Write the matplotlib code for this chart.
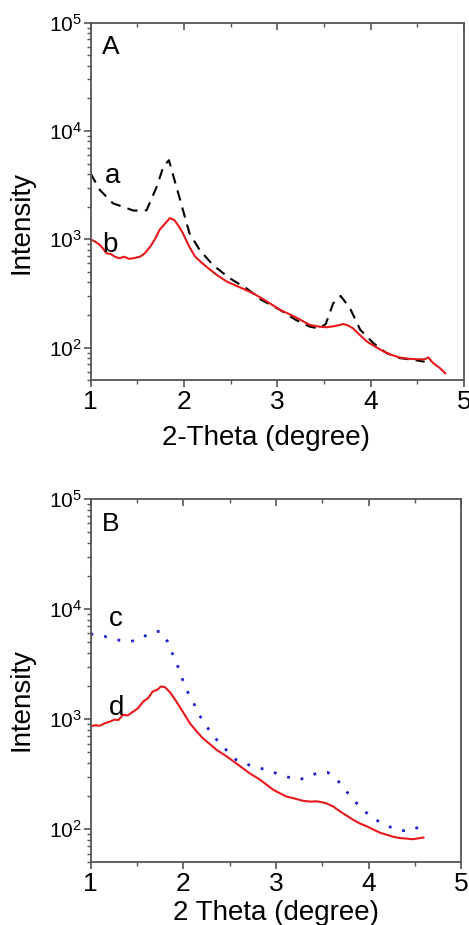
import numpy as np
import matplotlib
matplotlib.use('Agg')
import matplotlib.pyplot as plt

plt.rcParams['font.family'] = ['Liberation Sans', 'DejaVu Sans']
plt.rcParams['mathtext.fontset'] = 'custom'
plt.rcParams['mathtext.rm'] = 'Liberation Sans'
plt.rcParams['mathtext.it'] = 'Liberation Sans'

# ---- panel A ----
xa = [1.0, 1.1, 1.24, 1.46, 1.6, 1.71, 1.78, 1.84, 1.92, 1.96, 2.01, 2.06, 2.17, 2.31,
      2.49, 2.67, 2.83, 3.03, 3.2, 3.35, 3.45, 3.52, 3.6, 3.68, 3.78, 3.89, 4.03, 4.17,
      4.31, 4.46, 4.58]
ya = [4060, 2850, 2150, 1840, 1850, 3060, 4680, 5370, 3060, 2310, 1620, 1137, 795, 580,
      437, 353, 276, 223, 180, 156, 150, 165, 256, 300, 231, 146, 110, 89,
      80, 77, 74]

xb = [1.0, 1.05, 1.1, 1.14, 1.17, 1.22, 1.26, 1.31, 1.36, 1.41, 1.46, 1.53, 1.58, 1.64,
      1.69, 1.74, 1.80, 1.85, 1.90, 1.95, 1.99, 2.05, 2.12, 2.18, 2.24, 2.35, 2.46, 2.6,
      2.74, 2.88, 3.03, 3.15, 3.24, 3.35, 3.45, 3.53, 3.62, 3.71, 3.76, 3.81, 3.88, 3.96,
      4.05, 4.14, 4.22, 4.31, 4.40, 4.49, 4.58, 4.62, 4.67, 4.74, 4.8]
yb = [1000, 950, 887, 810, 743, 730, 690, 668, 690, 660, 668, 690, 740, 855,
      1000, 1220, 1400, 1570, 1500, 1300, 1137, 880, 692, 620, 560, 470, 407, 360,
      318, 270, 223, 200, 182, 162, 156, 154, 158, 165, 160, 151, 132, 114,
      102, 92, 86, 81, 79, 78, 78, 81, 72, 65, 58]

# ---- panel B ----
xc = [1.0, 1.1, 1.21, 1.32, 1.42, 1.53, 1.65, 1.75, 1.83, 1.87, 1.92, 1.96, 2.0, 2.05,
      2.11, 2.16, 2.23, 2.3, 2.39, 2.48, 2.57, 2.75, 2.9, 3.02, 3.13, 3.24, 3.35, 3.45,
      3.56, 3.66, 3.74, 3.82, 3.91, 4.01, 4.11, 4.21, 4.34, 4.46, 4.55]
yc = [5930, 5850, 5450, 5190, 5050, 5330, 6120, 6300, 5080, 4180, 3340, 2750, 2200, 1750,
      1420, 1130, 920, 747, 605, 508, 427, 371, 346, 318, 297, 281, 297, 327,
      327, 281, 231, 191, 158, 133, 117, 106, 97, 97, 106]

xd = [1.0, 1.05, 1.1, 1.16, 1.21, 1.26, 1.3, 1.35, 1.4, 1.46, 1.51, 1.57, 1.62, 1.67,
      1.72, 1.76, 1.8, 1.85, 1.9, 1.96, 2.02, 2.07, 2.14, 2.21, 2.29, 2.36, 2.47, 2.6,
      2.72, 2.83, 2.97, 3.11, 3.2, 3.29, 3.37, 3.44, 3.49, 3.54, 3.62, 3.69, 3.76, 3.83,
      3.9, 3.98, 4.05, 4.12, 4.19, 4.27, 4.34, 4.41, 4.48, 4.55, 4.59]
yd = [858, 880, 870, 920, 950, 990, 980, 1095, 1080, 1170, 1250, 1450, 1550, 1780,
      1850, 1980, 1960, 1780, 1560, 1300, 1080, 920, 780, 671, 590, 525, 457, 380,
      320, 281, 228, 198, 190, 181, 178, 179, 176, 172, 160, 145, 133, 122,
      113, 106, 99, 93, 89, 85, 83, 82, 81, 83, 84]

xticks = [1, 2, 3, 4, 5]

fig = plt.figure(figsize=(4.69, 9.25), dpi=100)
axA = fig.add_axes([0.193, 0.589, 0.796, 0.3865])
axB = fig.add_axes([0.193, 0.0678, 0.791, 0.3927])

spine_col = '#555555'


def style(ax, xlabel, xlab_pos, ylab_pos):
    ax.set_yscale('log')
    ax.set_xlim(1, 5)
    ax.set_ylim(50, 1e5)
    ax.set_xticks(xticks)
    ax.set_xticks(np.arange(1.5, 5, 1.0), minor=True)
    ax.set_yticks([1e2, 1e3, 1e4, 1e5])
    for s in ax.spines.values():
        s.set_color(spine_col)
        s.set_linewidth(1.3)
    ax.tick_params(axis='both', which='major', direction='out', length=5, width=1.2,
                   color=spine_col)
    ax.tick_params(axis='both', which='minor', direction='out', length=3, width=1.0,
                   color=spine_col)
    ax.tick_params(axis='x', which='major', labelsize=19, pad=2)
    ax.tick_params(axis='y', which='major', labelsize=15, pad=1)
    sec = ax.secondary_xaxis('top')
    sec.set_xticks(xticks)
    sec.set_xticks(np.arange(1.5, 5, 1.0), minor=True)
    sec.tick_params(which='major', direction='in', length=5, width=1.2, color=spine_col,
                    labeltop=False)
    sec.tick_params(which='minor', direction='in', length=3, width=1.0, color=spine_col)
    sec.spines['top'].set_visible(False)
    ax.set_xlabel(xlabel, fontsize=20)
    ax.set_ylabel('Intensity', fontsize=20)
    ax.xaxis.set_label_coords(*xlab_pos)
    ax.yaxis.set_label_coords(*ylab_pos)


axA.plot(xa, ya, color='black', lw=1.5, linestyle=(0, (5, 3.5)))
axA.plot(xb, yb, color='#e8191c', lw=1.5)
style(axA, '2-Theta (degree)', (0.47, -0.125), (-0.15, 0.442))
axA.text(0.03, 0.965, 'A', transform=axA.transAxes, fontsize=19, va='top', ha='left')
axA.text(1.15, 3300, 'a', fontsize=20)
axA.text(1.13, 766, 'b', fontsize=20)

axB.plot(xc, yc, color='#1f1fd0', lw=2.0, linestyle=(0, (1, 4)))
axB.plot(xd, yd, color='#e8191c', lw=1.5)
style(axB, '2 Theta (degree)', (0.5, -0.105), (-0.15, 0.447))
axB.text(0.03, 0.965, 'B', transform=axB.transAxes, fontsize=19, va='top', ha='left')
axB.text(1.2, 6950, 'c', fontsize=20)
axB.text(1.2, 1095, 'd', fontsize=20)

fig.savefig('out.png', dpi=100)
